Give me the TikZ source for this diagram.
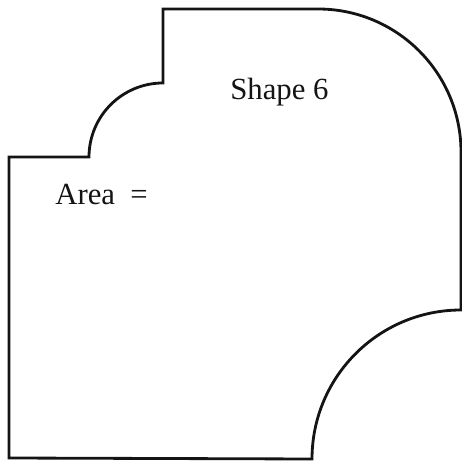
\documentclass[tikz,border=0pt]{standalone}
\usepackage{fontspec}
\setmainfont{Liberation Serif}
\definecolor{ink}{HTML}{141414}
\tikzset{
  outline/.style={draw=ink,line width=1.6pt,line join=miter},
  textlabel/.style={font=\fontsize{17.5}{20}\selectfont,text=ink,inner sep=0pt}
}

\begin{document}
\begin{tikzpicture}[x=0.02cm,y=0.02cm]
    \useasboundingbox (0,0) rectangle (461,462);
    % outline of the piece
    \draw[outline] (9,4) -- (9,305) -- (89,305)
      arc[start angle=180,end angle=90,radius=74] -- (163,453)
      -- (318,453) arc[start angle=90,end angle=0,radius=143]
      -- (461,152) arc[start angle=90,end angle=180,radius=149]
      -- cycle;
    \node[textlabel,anchor=base west] (title) at (230,362) {Shape 6};
    \node[textlabel,anchor=base west] (area) at (55,257) {Area\ \ =};
  \end{tikzpicture}
\end{document}
